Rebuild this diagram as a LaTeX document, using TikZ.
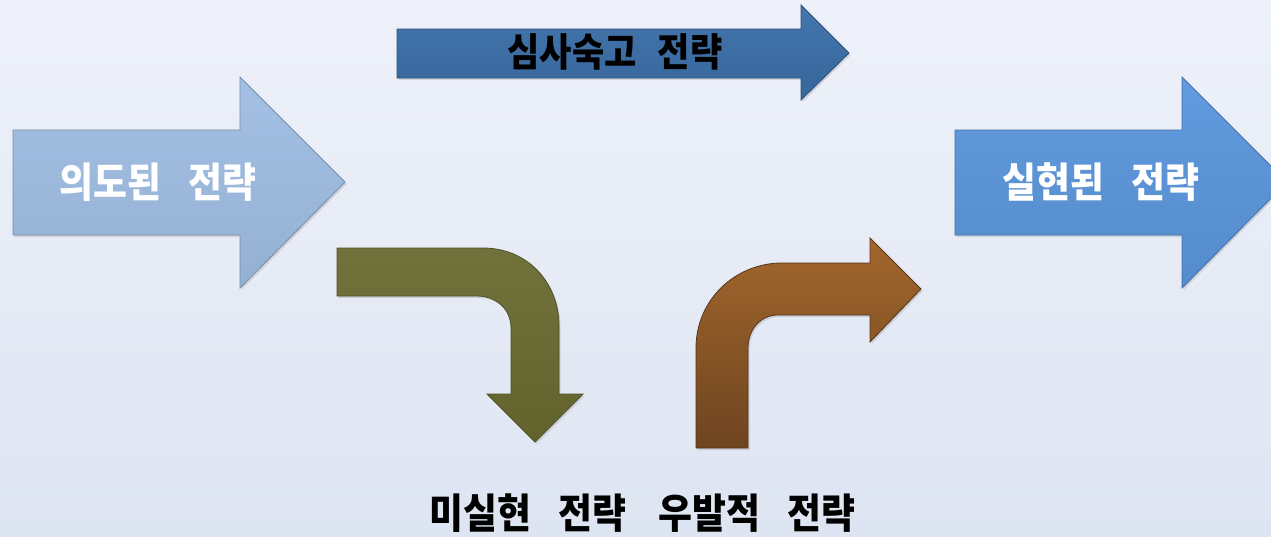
\documentclass[tikz,border=0pt]{standalone}
\usepackage{fontspec}
\newfontfamily\kr{Noto Sans CJK KR}
\usetikzlibrary{shadows}
\definecolor{bgtop}{HTML}{EEF1F9}
\definecolor{bgbot}{HTML}{DEE5F2}
\definecolor{lblue}{HTML}{9FBDE3}
\definecolor{mblue}{HTML}{5A96DC}
\definecolor{dblue}{HTML}{3A6EA7}
\definecolor{olive}{HTML}{6A6A31}
\definecolor{brownA}{HTML}{A3672D}
\definecolor{brownB}{HTML}{6E4420}
\newcommand{\hsq}[1]{\scalebox{0.9}[1]{#1}}
\tikzset{
  arrowshape/.style={draw=#1!75!black, line width=0.8pt, line join=miter,
    top color=#1!95!white, bottom color=#1!93!black,
    drop shadow={shadow xshift=1.5pt, shadow yshift=-2pt, opacity=0.25}},
  lbl/.style={font=\kr\bfseries\fontsize{41}{44}\selectfont, inner sep=0pt, anchor=center},
  lbls/.style={font=\kr\bfseries\fontsize{39}{42}\selectfont, inner sep=0pt, anchor=center},
}
\begin{document}
\begin{tikzpicture}[x=1pt,y=-1pt]
\useasboundingbox (0,0) rectangle (1271,536);
\shade[top color=bgtop, bottom color=bgbot] (0,0) rectangle (1271,536);
% top arrow
\path[arrowshape=dblue] (397,29) -- (801,29) -- (801,5) -- (849,53) -- (801,100) -- (801,78) -- (397,78) -- cycle;
% left arrow
\path[arrowshape=lblue] (13,130) -- (240,130) -- (240,77) -- (345,182) -- (240,288) -- (240,235) -- (13,235) -- cycle;
% right arrow (clipped)
\begin{scope}
\clip (0,0) rectangle (1271,536);
\path[arrowshape=mblue] (955,130) -- (1182,130) -- (1182,77) -- (1287,182) -- (1182,288) -- (1182,235) -- (955,235) -- cycle;
\end{scope}
% green bent arrow
\path[arrowshape=olive] (337,248) -- (483,248) .. controls (527,248) and (559,282) .. (559,326)
  -- (559,394) -- (583,394) -- (535,442) -- (487,394) -- (511,394) -- (511,328)
  .. controls (511,309) and (496,296) .. (477,296) -- (337,296) -- cycle;
% brown bent arrow
\path[draw=brownB!80!black, line width=0.8pt, top color=brownA, bottom color=brownB,
  drop shadow={shadow xshift=1.5pt, shadow yshift=-2pt, opacity=0.25}]
  (696,448) -- (696,348) .. controls (696,300) and (735,263) .. (782,263) -- (870,263) -- (870,238)
  -- (921,289) -- (870,342) -- (870,315) -- (778,315) .. controls (760,315) and (748,330) .. (748,348)
  -- (748,448) -- cycle;
% labels
\node[lbl, text=white] (intended) at (158,182) {\hsq{의도된\hspace{0.75em}전략}};
\node[lbl, text=white] (realized) at (1101,182) {\hsq{실현된\hspace{0.75em}전략}};
\node[lbls, text=black] (deliberate) at (615,52) {\hsq{심사숙고\hspace{0.6em}전략}};
\node[lbl, text=black] (unrealized) at (528,513) {\hsq{미실현\hspace{0.75em}전략}};
\node[lbl, text=black] (emergent) at (757,513) {\hsq{우발적\hspace{0.75em}전략}};
\end{tikzpicture}
\end{document}
